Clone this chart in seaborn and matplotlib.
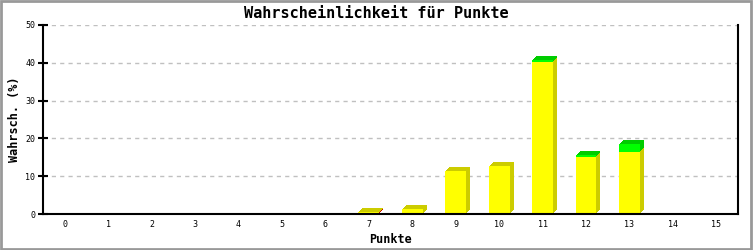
import matplotlib
matplotlib.use("Agg")
import matplotlib.pyplot as plt
import matplotlib.transforms as mtransforms
from matplotlib.patches import Rectangle
import seaborn as sns
import pandas as pd
import numpy as np

categories = [str(i) for i in range(16)]
red_vals    = [0, 0, 0, 0, 0, 0, 0, 0.25, 0, 0, 0, 0, 0, 0, 0, 0]
yellow_vals = [0, 0, 0, 0, 0, 0, 0, 0.15, 1.2, 11.5, 12.7, 40.3, 15.2, 16.5, 0, 0]
green_vals  = [0, 0, 0, 0, 0, 0, 0, 0, 0, 0, 0, 0.5, 0.4, 2.0, 0, 0]

sns.set_style("white")
plt.rcParams['font.family'] = ['DejaVu Sans Mono', 'DejaVu Sans']
plt.rcParams.update({"text.color": "black", "axes.labelcolor": "black",
                     "xtick.color": "black", "ytick.color": "black"})

red = np.array(red_vals)
yel = red + np.array(yellow_vals)
tot = yel + np.array(green_vals)
df = pd.DataFrame({"Punkte": categories, "red": red, "yel": yel, "tot": tot})

fig = plt.figure(figsize=(7.53, 2.5), dpi=100)
ax = fig.add_axes([43/753, 36/250, (738-43)/753, (214-25)/250])

W = 0.48
layers = [("tot", "#00cc00", "#00ff00"), ("yel", "#cccc00", "#ffff00"), ("red", "#cc0000", "#ff0000")]

# 3D depth: stacked shifted copies (staircase extrusion)
for off in [4, 3, 2, 1]:
    shift = mtransforms.ScaledTranslation(off/100, off/100, fig.dpi_scale_trans)
    for col, dark, _ in layers:
        n0 = len(ax.patches)
        sns.barplot(data=df, x="Punkte", y=col, color=dark, width=W, saturation=1,
                    linewidth=0, ax=ax, zorder=2)
        for p in ax.patches[n0:]:
            p.set_transform(ax.transData + shift)
            if p.get_height() <= 0:
                p.set_visible(False)
# fronts
for col, _, light in layers:
    n0 = len(ax.patches)
    sns.barplot(data=df, x="Punkte", y=col, color=light, width=W, saturation=1,
                linewidth=0, ax=ax, zorder=3)
    for p in ax.patches[n0:]:
        if p.get_height() <= 0:
            p.set_visible(False)

ax.set_xlim(-0.5, 15.5)
ax.set_ylim(0, 50)
ax.set_yticks([0, 10, 20, 30, 40, 50])
ax.yaxis.grid(True, color="#c0c0c0", linestyle=(0, (3, 3)), linewidth=1)
ax.set_axisbelow(True)
for s in ["left", "bottom", "right"]:
    ax.spines[s].set_visible(True)
    ax.spines[s].set_color("black")
    ax.spines[s].set_linewidth(1.5)
    ax.spines[s].set_zorder(4)
ax.spines["top"].set_visible(False)
ax.tick_params(axis="y", direction="inout", length=7, width=1.5, labelsize=6, pad=2, left=True)
ax.tick_params(axis="x", length=0, labelsize=6, pad=4)

ax.set_xlabel("Punkte", fontsize=8.5, fontweight="bold", labelpad=3)
ax.set_ylabel("Wahrsch. (%)", fontsize=8.5, fontweight="bold", labelpad=3)
fig.text(0.5, 1 - 14/250, "Wahrscheinlichkeit für Punkte", ha="center", va="center",
         fontsize=11, fontweight="bold")

fig.patches.append(Rectangle((0.001, 0.003), 0.996, 0.993, transform=fig.transFigure,
                             fill=False, edgecolor="#999999", linewidth=2))

fig.savefig("out.png", dpi=100)
